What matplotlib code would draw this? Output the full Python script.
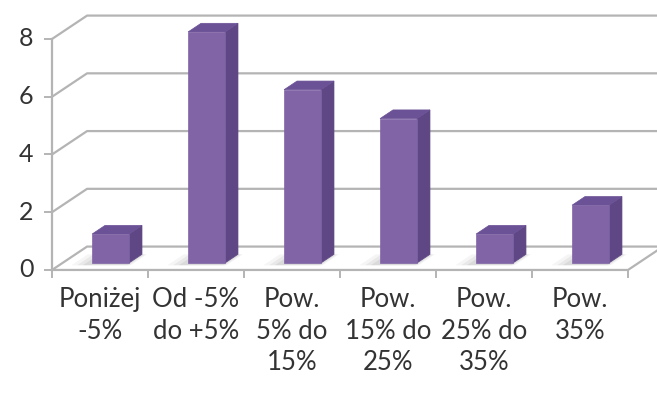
import matplotlib.pyplot as plt
from matplotlib.patches import Polygon

categories = ["Poniżej\n-5%", "Od -5%\ndo +5%", "Pow.\n5% do\n15%",
              "Pow.\n15% do\n25%", "Pow.\n25% do\n35%", "Pow.\n35%"]
counts = [1, 8, 6, 5, 1, 2]
y_ticks = [0, 2, 4, 6, 8]

FRONT = "#8064A6"
SIDE = "#5E4784"
TOP = "#6B5196"
GRID = "#B4B4B4"

# oblique depth offset of the whole plot box (in data units)
DX, DY = 0.365, 0.81
BAR_W = 0.385
D0, D1 = 0.30, 0.67   # bar front/back as a fraction of the depth


def proj(x, y, d):
    return (x + DX * d, y + DY * d)


fig = plt.figure(figsize=(6.57, 3.97), dpi=100)
ax = fig.add_axes([0, 0, 1, 1])
ax.set_xlim(-0.542, 6.302)
ax.set_ylim(-4.40, 9.35)
ax.axis("off")

n = len(categories)

# back wall and side wall gridlines
for v in y_ticks:
    x0, y0 = proj(0, v, 0)
    x1, y1 = proj(0, v, 1)
    x2, y2 = proj(n, v, 1)
    ax.plot([x0, x1, x2], [y0, y1, y2], color=GRID, lw=1.6, zorder=1)
    ax.plot([x0 - 0.07, x0], [y0, y0], color=GRID, lw=1.4, zorder=1)
    ax.text(-0.27, v, str(v), ha="center", va="center", fontsize=18,
            family="Lato", color="#333333")

# left axis and floor
ax.plot([0, 0], [0, y_ticks[-1]], color=GRID, lw=1.6, zorder=1)
fx, fy = proj(n, 0, 1)
ax.plot([0, n, fx], [0, 0, fy], color=GRID, lw=1.6, zorder=1)
for i in range(n + 1):
    ax.plot([i, i], [0, -0.25], color=GRID, lw=1.4, zorder=1)

# bars
for i, v in enumerate(counts):
    left = i + 0.5 - BAR_W / 2
    right = left + BAR_W
    bx, by = proj(left, 0, D0)
    # soft floor shadow
    for k, a in enumerate([0.06, 0.05, 0.04]):
        s = 0.06 * (k + 1)
        sh = [proj(left - s, 0, D0 - 0.1), proj(right + s * 0.3, 0, D0 - 0.1),
              proj(right + s * 0.3, 0, D1), proj(left - s, 0, D1)]
        ax.add_patch(Polygon(sh, closed=True, fc="black", ec="none",
                             alpha=a, zorder=2))
    side = [proj(right, 0, D0), proj(right, 0, D1),
            proj(right, v, D1), proj(right, v, D0)]
    top = [proj(left, v, D0), proj(right, v, D0),
           proj(right, v, D1), proj(left, v, D1)]
    ax.add_patch(Polygon(side, closed=True, fc=SIDE, ec=SIDE, lw=0.5, zorder=3))
    ax.add_patch(Polygon(top, closed=True, fc=TOP, ec=TOP, lw=0.5, zorder=3))
    ax.bar(bx, v, width=BAR_W, bottom=by, align="edge", color=FRONT,
           edgecolor=FRONT, lw=0.5, zorder=4)

# category labels
for i, lab in enumerate(categories):
    ax.text(i + 0.5, -0.6, lab, ha="center", va="top", fontsize=18.5,
            family="Lato", color="#333333", linespacing=1.32)

fig.savefig("out.png", dpi=100)
